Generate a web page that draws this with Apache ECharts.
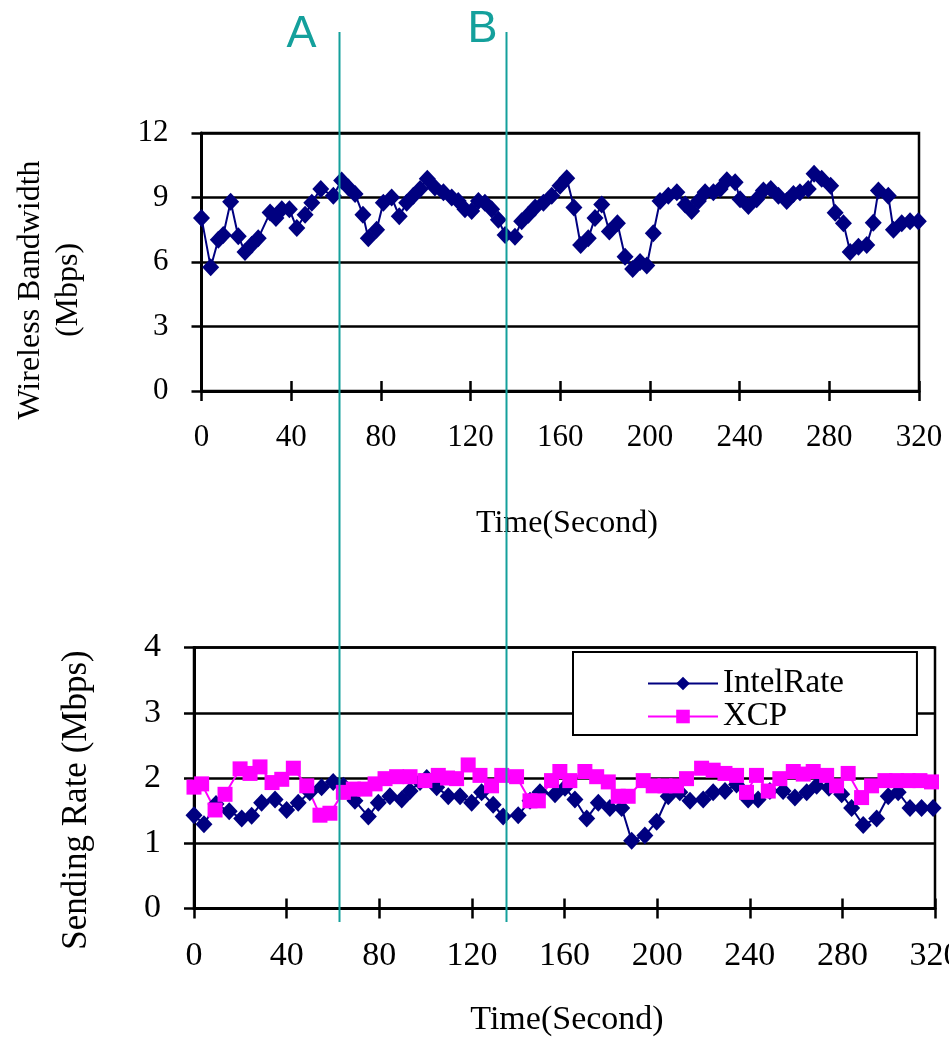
<!DOCTYPE html>
<html>
<head>
<meta charset="utf-8">
<title>Wireless Bandwidth and Sending Rate</title>
<script src="https://cdn.jsdelivr.net/npm/echarts@6.0.0/dist/echarts.min.js"></script>
<style>
  html, body { margin: 0; padding: 0; background: #fff; }
  #chart { width: 949px; height: 1062px; }
</style>
</head>
<body>
<div id="chart"></div>
<script>
// Wireless bandwidth over time (seconds, Mbps)
const bwTime = [0, 4.1, 7.5, 9.7, 13.0, 16.4, 19.4, 22.4, 25.3, 30.6, 33.2, 35.8, 39.2, 42.5, 46.2, 49.2, 53.2, 58.8, 62.5, 65.5,
  68.5, 72.0, 74.4, 78.1, 81.1, 84.8, 88.2, 91.5, 94.5, 97.5, 100.7, 104.1, 107.9, 111.6, 114.5, 117.5, 120.5, 123.5, 126.4, 129.4,
  132.4, 135.4, 139.8, 142.8, 145.8, 148.8, 152.5, 156.2, 159.9, 162.9, 166.1, 169.1, 172.5, 175.5, 178.5, 181.9, 185.5, 188.9, 192.3, 195.6,
  198.6, 201.5, 204.5, 208.2, 212.0, 215.7, 218.6, 221.6, 224.6, 228.3, 231.3, 234.3, 238.0, 240.2, 243.9, 247.6, 250.6, 253.9, 257.3, 261.0,
  264.0, 266.9, 270.6, 273.2, 276.6, 280.6, 282.6, 286.3, 289.3, 293.0, 296.7, 299.6, 301.9, 306.3, 308.6, 312.3, 316.0, 319.7];
const bwValue = [8.05, 5.76, 7.03, 7.26, 8.8, 7.2, 6.47, 6.8, 7.1, 8.3, 8.05, 8.45, 8.45, 7.58, 8.2, 8.76, 9.4, 9.08, 9.79, 9.47,
  9.16, 8.2, 7.1, 7.5, 8.76, 9.0, 8.13, 8.76, 9.08, 9.4, 9.87, 9.47, 9.24, 9.0, 8.84, 8.45, 8.37, 8.84, 8.76, 8.45,
  7.97, 7.26, 7.18, 7.9, 8.2, 8.53, 8.76, 9.08, 9.55, 9.9, 8.53, 6.79, 7.1, 8.05, 8.68, 7.42, 7.8, 6.24, 5.68, 6.0,
  5.84, 7.34, 8.84, 9.08, 9.24, 8.68, 8.37, 8.84, 9.24, 9.24, 9.4, 9.8, 9.71, 8.92, 8.6, 8.92, 9.32, 9.4, 9.08, 8.84,
  9.16, 9.24, 9.4, 10.1, 9.87, 9.55, 8.29, 7.8, 6.47, 6.71, 6.79, 7.82, 9.32, 9.08, 7.5, 7.8, 7.9, 7.9];

// IntelRate sending rate (seconds, Mbps)
const intelTime = [0, 4.3, 9.5, 15.2, 20.6, 24.9, 29.2, 35.0, 40.0, 45.0, 50.0, 55.1, 60.1, 64.5, 69.5, 75.3, 79.6, 84.6, 89.7, 93.3,
  97.6, 100.5, 104.8, 109.8, 114.9, 119.9, 124.2, 129.2, 133.5, 140.0, 145.1, 149.4, 155.9, 160.2, 164.5, 169.6, 174.6, 179.6, 184.7, 189.0,
  194.7, 199.8, 204.8, 209.8, 214.2, 219.9, 224.2, 229.3, 234.3, 239.3, 243.6, 248.7, 254.4, 259.5, 264.6, 268.9, 274.2, 279.7, 284.0, 289.0,
  294.8, 299.8, 304.1, 309.2, 314.2, 319.2];
const intelValue = [1.43, 1.29, 1.6, 1.49, 1.38, 1.42, 1.62, 1.67, 1.51, 1.62, 1.78, 1.86, 1.94, 1.88, 1.65, 1.41, 1.62, 1.72, 1.67, 1.8,
  1.94, 2.0, 1.86, 1.72, 1.72, 1.62, 1.78, 1.59, 1.41, 1.43, 1.65, 1.78, 1.75, 1.85, 1.67, 1.38, 1.62, 1.54, 1.54, 1.04,
  1.12, 1.33, 1.72, 1.78, 1.65, 1.67, 1.78, 1.8, 1.9, 1.67, 1.67, 1.8, 1.8, 1.7, 1.78, 1.88, 1.85, 1.75, 1.54, 1.28,
  1.38, 1.72, 1.78, 1.54, 1.54, 1.54];

// XCP sending rate (seconds, Mbps)
const xcpTime = [0, 3.3, 9.1, 13.4, 19.9, 24.2, 28.5, 33.7, 37.9, 42.9, 48.7, 54.4, 58.7, 64.5, 68.8, 73.8, 78.2, 82.5, 87.5, 93.3,
  99.7, 105.5, 109.5, 113.4, 118.4, 123.5, 128.5, 132.9, 139.3, 145.1, 148.7, 154.4, 158.0, 162.3, 168.8, 173.9, 178.9, 183.2, 187.5, 194.0,
  198.3, 203.4, 208.4, 212.7, 219.2, 224.2, 229.3, 234.3, 238.6, 242.9, 248.0, 253.0, 258.8, 263.1, 267.4, 273.2, 277.5, 282.5, 288.3, 292.6,
  298.4, 303.4, 308.4, 313.5, 318.5];
const xcpValue = [1.86, 1.91, 1.51, 1.75, 2.14, 2.07, 2.17, 1.93, 1.98, 2.15, 1.88, 1.43, 1.46, 1.78, 1.83, 1.83, 1.91, 1.99, 2.02, 2.02,
  1.96, 2.04, 2.0, 1.99, 2.2, 2.04, 1.88, 2.04, 2.02, 1.65, 1.65, 1.96, 2.1, 1.96, 2.1, 2.02, 1.94, 1.72, 1.72, 1.96,
  1.88, 1.88, 1.88, 1.99, 2.15, 2.12, 2.07, 2.04, 1.78, 2.04, 1.8, 1.99, 2.1, 2.06, 2.1, 2.04, 1.88, 2.07, 1.7, 1.88,
  1.96, 1.96, 1.96, 1.96, 1.94];

// Axis ticks
const timeTicks = { min: 0, max: 320, interval: 40 };
const bwTicks = { min: 0, max: 12, interval: 3 };
const rateTicks = { min: 0, max: 4, interval: 1 };

// Event markers (seconds)
const markTimes = [61.5, 136];
const markNames = ['A', 'B'];

const SERIF = '"Liberation Serif", "Times New Roman", serif';
const NAVY = '#000080';
const MAGENTA = '#FF00FF';
const TEAL = '#14A09C';

const pairs = (ts, vs) => ts.map((t, i) => [t, vs[i]]);

function timeAxis(gridIndex, fontSize, margin) {
  return [
    {
      gridIndex, type: 'value', ...timeTicks,
      axisLine: { show: true, onZero: false, lineStyle: { color: '#000', width: 3 } },
      axisTick: { show: true, inside: false, length: 10, lineStyle: { color: '#000', width: 2.5 } },
      axisLabel: { margin, fontSize, fontFamily: SERIF, color: '#000' },
      splitLine: { show: false }
    },
    {
      gridIndex, type: 'value', position: 'bottom', offset: 0, ...timeTicks,
      axisLine: { show: false },
      axisTick: { show: true, inside: true, length: 10, lineStyle: { color: '#000', width: 2.5 } },
      axisLabel: { show: false },
      splitLine: { show: false }
    }
  ];
}

function valueAxis(gridIndex, ticks, fontSize) {
  return {
    gridIndex, type: 'value', ...ticks,
    axisLine: { show: true, onZero: false, lineStyle: { color: '#000', width: 3 } },
    axisTick: { show: true, inside: false, length: 10, lineStyle: { color: '#000', width: 2.5 } },
    axisLabel: { margin: 33, fontSize, fontFamily: SERIF, color: '#000' },
    splitLine: { show: true, lineStyle: { color: '#000', width: 2.5 } }
  };
}

const chart = echarts.init(document.getElementById('chart'));

const gridBase = { show: true, borderColor: '#000', borderWidth: 2.5, backgroundColor: 'transparent', containLabel: false, outerBoundsMode: 'none' };

chart.setOption({
  animation: false,
  backgroundColor: '#fff',
  grid: [
    { ...gridBase, left: 201.5, right: 30, top: 133, height: 258 },
    { ...gridBase, left: 194, right: 14, top: 647.5, height: 261 }
  ],
  xAxis: [...timeAxis(0, 31, 31), ...timeAxis(1, 34, 31)],
  yAxis: [valueAxis(0, bwTicks, 31), valueAxis(1, rateTicks, 34)],
  legend: {
    data: ['IntelRate', 'XCP'],
    orient: 'vertical',
    left: 573, top: 652,
    padding: [15, 73, 2, 74],
    itemGap: 0,
    itemWidth: 70, itemHeight: 17,
    backgroundColor: '#fff',
    borderColor: '#000', borderWidth: 2, borderRadius: 0,
    textStyle: { fontSize: 33, fontFamily: SERIF, color: '#000', lineHeight: 32 }
  },
  series: [
    {
      name: 'Wireless Bandwidth', type: 'line', xAxisIndex: 0, yAxisIndex: 0,
      data: pairs(bwTime, bwValue),
      symbol: 'diamond', symbolSize: [17, 18], showSymbol: true, showAllSymbol: true,
      lineStyle: { color: NAVY, width: 2 },
      itemStyle: { color: NAVY, borderWidth: 0 },
      emphasis: { disabled: true }
    },
    {
      name: 'IntelRate', type: 'line', xAxisIndex: 2, yAxisIndex: 1,
      data: pairs(intelTime, intelValue),
      symbol: 'diamond', symbolSize: [17, 18], showSymbol: true, showAllSymbol: true,
      lineStyle: { color: NAVY, width: 2 },
      itemStyle: { color: NAVY, borderWidth: 0 },
      emphasis: { disabled: true }
    },
    {
      name: 'XCP', type: 'line', xAxisIndex: 2, yAxisIndex: 1,
      data: pairs(xcpTime, xcpValue),
      symbol: 'rect', symbolSize: 15, showSymbol: true, showAllSymbol: true,
      lineStyle: { color: MAGENTA, width: 2 },
      itemStyle: { color: MAGENTA, borderWidth: 0 },
      emphasis: { disabled: true }
    }
  ]
});

// Axis titles and the A/B event markers spanning both panels
const graphics = [
  {
    type: 'text', x: 50, y: 290, rotation: Math.PI / 2,
    style: { text: 'Wireless Bandwidth\n(Mbps)', font: '32px ' + SERIF, lineHeight: 38, fill: '#000', align: 'center', verticalAlign: 'middle' }
  },
  {
    type: 'text', x: 567, y: 524,
    style: { text: 'Time(Second)', font: '32px ' + SERIF, fill: '#000', align: 'center', verticalAlign: 'middle' }
  },
  {
    type: 'text', x: 77, y: 800, rotation: Math.PI / 2,
    style: { text: 'Sending Rate (Mbps)', font: '35px ' + SERIF, fill: '#000', align: 'center', verticalAlign: 'middle' }
  },
  {
    type: 'text', x: 567, y: 1020,
    style: { text: 'Time(Second)', font: '34px ' + SERIF, fill: '#000', align: 'center', verticalAlign: 'middle' }
  }
];

const labelOffsets = [{ dx: -38, y: 35 }, { dx: -24, y: 30 }];
markTimes.forEach((t, i) => {
  const x = Math.round(chart.convertToPixel({ xAxisIndex: 0 }, t)) + 0.5;
  graphics.push({
    type: 'line', z: 100,
    shape: { x1: x, y1: 32, x2: x, y2: 922 },
    style: { stroke: TEAL, lineWidth: 2 }
  });
  graphics.push({
    type: 'text', z: 100, x: x + labelOffsets[i].dx, y: labelOffsets[i].y,
    style: { text: markNames[i], font: '45px "Liberation Sans", Arial, sans-serif', fill: TEAL, align: 'center', verticalAlign: 'middle' }
  });
});

chart.setOption({ graphic: graphics });
</script>
</body>
</html>
